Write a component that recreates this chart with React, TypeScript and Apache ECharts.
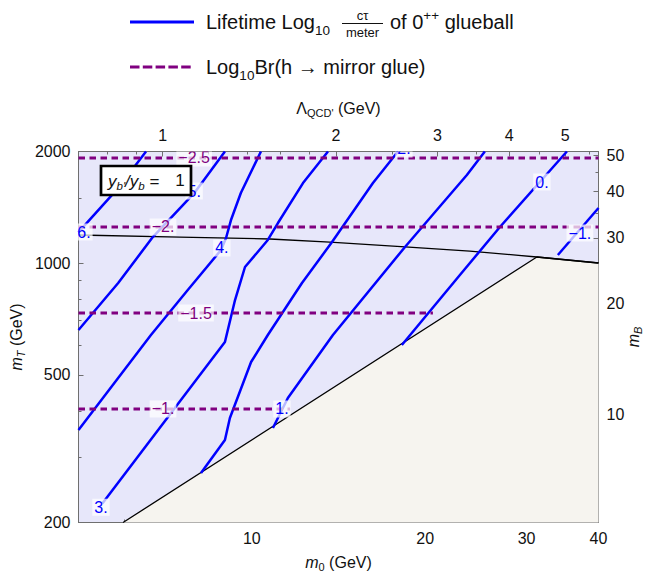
import React, { useEffect, useRef } from 'react';
import * as echarts from 'echarts';

const FONT = '"Liberation Sans", Arial, Helvetica, sans-serif';
const BLUE = '#0000ff';
const PURPLE = '#800080';
const AXIS = '#6f6f6f';
const TEXT = '#111111';

// axis ranges (GeV)
const m0Range = [5, 40];
const mTRange = [200, 2000];
const m0PerLambda = 7.0;
const mTPerMB = 39;

// tick marks
const m0Labels = [10, 20, 30, 40];
const m0MinorTicks = [6, 8, 12, 14, 16, 18, 22, 24, 26, 28, 32, 34, 36, 38];
const mTLabels = [200, 500, 1000, 2000];
const mTMinorTicks = [300, 400, 600, 700, 800, 900, 1500];
const lambdaLabels = [1, 2, 3, 4, 5];
const lambdaMinorTicks = [0.8, 0.9, 1.2, 1.4, 1.6, 1.8, 2.5, 3.5, 4.5, 5.5];
const mBLabels = [10, 20, 30, 40, 50];
const mBMinorTicks = [6, 7, 8, 9, 12, 14, 16, 18, 25, 35, 45];

// lifetime contours, points [m0, mT] in GeV
const lifetime6 = [[5.0, 1213], [5.86, 1594], [6.55, 2000]];
const lifetime5 = [[5.0, 660.6], [5.86, 884.5], [6.73, 1176], [7.97, 1555], [8.98, 2000]];
const lifetime4 = [[5.0, 355.1], [6.68, 640.4], [7.74, 846.9], [8.84, 1085], [9.02, 1169], [9.2, 1307], [9.57, 1546], [10.37, 2000]];
const lifetime3 = [[5.5, 225], [8.98, 613.1], [9.35, 795.6], [9.73, 976.6], [10.66, 1155], [11.1, 1283], [12.27, 1644], [13.56, 2000]];
const lifetime2 = [[8.16, 271.9], [8.98, 333.8], [9.16, 382.5], [9.97, 541.5], [10.66, 640.4], [12.22, 884.5], [13.78, 1140], [16.23, 1644], [17.94, 2000]];
const lifetime1 = [[10.88, 359.5], [11.55, 433], [13.83, 640.4], [18.45, 1106], [23.63, 1729], [25.39, 2000]];
const lifetime0 = [[18.22, 601.8], [22.98, 929.2], [26.97, 1252], [35.25, 2000]];
const lifetimeMinus1 = [[34.0, 1052], [40, 1408]];

// contour label positions
const lifeLabelText = ['6.', '5.', '4.', '3.', '2.', '1.', '0.', '\u22121.'];
const lifeLabelM0 = [5.11, 7.94, 8.87, 5.47, 18.37, 11.28, 31.9, 37.13];
const lifeLabelMT = [1213, 1565, 1099, 220, 2032, 404.6, 1655, 1206];

// Br contours (horizontal): level, mT, m0 extent
const brLabelText = ['\u22122.5', '\u22122.', '\u22121.5', '\u22121.'];
const brMT = [1921, 1252, 734, 404.6];
const brM0End = [40, 40, 20.63, 11.65];
const brLabelM0 = [7.94, 7.01, 8.0, 7.01];

// region boundaries
const diagonalBoundary = [[5.975, 200], [31.26, 1039]];
const upperBoundary = [[5, 1191], [7.5, 1176], [10.75, 1162], [13.66, 1140], [18.45, 1106], [23.91, 1078], [31.26, 1039], [40, 1001]];

const lg = (v: number) => Math.log10(v);
const lgPts = (pts: number[][]) => pts.map(([a, b]) => [lg(a), lg(b)]);
const fmt = (v: number) => String(Math.round(Math.pow(10, v)));

const richName = {
  i: { fontStyle: 'italic', fontSize: 16, lineHeight: 20, fontFamily: FONT, color: TEXT },
  si: { fontStyle: 'italic', fontSize: 11, lineHeight: 11, verticalAlign: 'bottom', fontFamily: FONT, color: TEXT },
  s: { fontSize: 11, lineHeight: 11, verticalAlign: 'bottom', fontFamily: FONT, color: TEXT },
  n: { fontSize: 16, lineHeight: 20, fontFamily: FONT, color: TEXT },
};

let measureCtx: CanvasRenderingContext2D | null = null;
function textWidth(text: string, font: string) {
  if (!measureCtx) measureCtx = document.createElement('canvas').getContext('2d');
  if (!measureCtx) return text.length * 10;
  measureCtx.font = font;
  return measureCtx.measureText(text).width;
}

// sequence of text pieces laid out left to right; dy = vertical offset, size = font size
function textRun(x: number, y: number, pieces: { t: string; size: number; dy: number; italic?: boolean }[]) {
  const out: any[] = [];
  let cx = x;
  pieces.forEach((p) => {
    const font = (p.italic ? 'italic ' : '') + p.size + 'px ' + FONT;
    out.push({ type: 'text', z: 100, x: cx, y: y + p.dy, style: { text: p.t, font, fill: TEXT, align: 'left', verticalAlign: 'middle' } });
    cx += textWidth(p.t, font);
  });
  return out;
}

function majorAxis(position: string, min: number, max: number, labels: number[], extra: any) {
  const vals = labels.map(lg);
  return {
    type: 'value',
    position,
    min,
    max,
    axisLine: { show: true, onZero: false, lineStyle: { color: AXIS, width: 1 } },
    axisTick: { show: true, inside: true, length: 5, customValues: vals, lineStyle: { color: AXIS, width: 1 } },
    axisLabel: { show: true, customValues: vals, formatter: fmt, color: TEXT, fontSize: 16, fontFamily: FONT },
    splitLine: { show: false },
    nameMoveOverlap: false,
    ...extra,
  };
}

function minorAxis(position: string, min: number, max: number, ticks: number[]) {
  return {
    type: 'value',
    position,
    min,
    max,
    axisLine: { show: false, onZero: false },
    axisTick: { show: true, inside: true, length: 3, customValues: ticks.map(lg), lineStyle: { color: AXIS, width: 1 } },
    axisLabel: { show: false },
    splitLine: { show: false },
  };
}

export default function App() {
  const ref = useRef<HTMLDivElement>(null);
  useEffect(() => {
    if (!ref.current) return;
    const chart = echarts.init(ref.current, null, { renderer: 'svg' });
    const x0 = lg(m0Range[0]);
    const x1 = lg(m0Range[1]);
    const y0 = lg(mTRange[0]);
    const y1 = lg(mTRange[1]);
    const l0 = lg(m0Range[0] / m0PerLambda);
    const l1 = lg(m0Range[1] / m0PerLambda);
    const b0 = lg(mTRange[0] / mTPerMB);
    const b1 = lg(mTRange[1] / mTPerMB);

    const lifetimes = [lifetime6, lifetime5, lifetime4, lifetime3, lifetime2, lifetime1, lifetime0, lifetimeMinus1];

    const labelItems = [
      ...lifeLabelText.map((t, i) => ({ text: t, color: BLUE, m0: lifeLabelM0[i], mT: lifeLabelMT[i] })),
      ...brLabelText.map((t, i) => ({ text: t, color: PURPLE, m0: brLabelM0[i], mT: brMT[i] })),
    ];

    const excluded = [...diagonalBoundary, ...upperBoundary.filter((p) => p[0] > diagonalBoundary[1][0])];

    const series: any[] = [];
    series.push({
      type: 'line',
      name: 'excluded',
      data: lgPts(excluded),
      showSymbol: false,
      lineStyle: { color: '#000', width: 1.3 },
      areaStyle: { color: '#f6f4ef', opacity: 1, origin: 'start' },
      z: 2,
      silent: true,
    });
    series.push({
      type: 'line',
      name: 'upper',
      data: lgPts(upperBoundary),
      showSymbol: false,
      lineStyle: { color: '#000', width: 1.3 },
      z: 3,
      silent: true,
    });
    lifetimes.forEach((pts, i) => {
      series.push({
        type: 'line',
        name: 'life' + i,
        data: lgPts(pts),
        showSymbol: false,
        lineStyle: { color: BLUE, width: 2.5 },
        z: 4,
        silent: true,
      });
    });
    brMT.forEach((mt, i) => {
      series.push({
        type: 'line',
        name: 'br' + i,
        data: [[x0, lg(mt)], [lg(brM0End[i]), lg(mt)]],
        showSymbol: false,
        lineStyle: { color: PURPLE, width: 3, type: [6.5, 4.5] },
        z: 5,
        silent: true,
      });
    });
    series.push({
      type: 'custom',
      name: 'labels',
      coordinateSystem: 'cartesian2d',
      clip: true,
      z: 6,
      silent: true,
      data: labelItems.map((l) => [lg(l.m0), lg(l.mT)]),
      renderItem: (params: any, api: any) => {
        const item = labelItems[params.dataIndex];
        const p = api.coord([api.value(0), api.value(1)]);
        return {
          type: 'text',
          x: p[0],
          y: p[1],
          style: {
            text: item.text,
            fill: item.color,
            font: '16px ' + FONT,
            align: 'center',
            verticalAlign: 'middle',
            backgroundColor: 'rgba(255,255,255,0.72)',
            padding: [1, 2, 0, 2],
          },
        };
      },
    });

    const legendRow1a = textRun(206, 22, [
      { t: 'Lifetime Log', size: 20, dy: 0 },
      { t: '10', size: 13.5, dy: 8 },
    ]);
    const legendRow1b = textRun(390, 22, [
      { t: 'of 0', size: 20, dy: 0 },
      { t: '++', size: 13.5, dy: -6.5 },
      { t: ' glueball', size: 20, dy: 0 },
    ]);
    const legendRow2 = textRun(206, 67, [
      { t: 'Log', size: 20, dy: 0 },
      { t: '10', size: 13.5, dy: 8 },
      { t: 'Br(h \u2192 mirror glue)', size: 20, dy: 0 },
    ]);
    const ybox = textRun(108, 181, [
      { t: 'y', size: 17, dy: 0, italic: true },
      { t: "b'", size: 11.5, dy: 5, italic: true },
      { t: '/', size: 17, dy: 0, italic: true },
      { t: 'y', size: 17, dy: 0, italic: true },
      { t: 'b', size: 11.5, dy: 5, italic: true },
      { t: ' =', size: 17, dy: 0 },
    ]).map((e) => ({ ...e, z: 101 }));

    const option: any = {
      animation: false,
      backgroundColor: '#ffffff',
      grid: {
        left: 78.5,
        right: 50.5,
        top: 151.5,
        bottom: 49.5,
        show: true,
        backgroundColor: '#e7e7fa',
        borderWidth: 0,
        containLabel: false,
        outerBoundsMode: 'none',
      },
      xAxis: [
        majorAxis('bottom', x0, x1, m0Labels, {
          name: '{i|m}{s|0}{n| (GeV)}',
          nameLocation: 'middle',
          nameGap: 30,
          nameTextStyle: { color: TEXT, fontSize: 16, fontFamily: FONT, rich: richName },
        }),
        minorAxis('bottom', x0, x1, m0MinorTicks),
        majorAxis('top', l0, l1, lambdaLabels, {
          name: "{n|\u039b}{s|QCD'}{n| (GeV)}",
          nameLocation: 'middle',
          nameGap: 33,
          nameTextStyle: { color: TEXT, fontSize: 16, fontFamily: FONT, rich: richName },
        }),
        minorAxis('top', l0, l1, lambdaMinorTicks),
      ],
      yAxis: [
        majorAxis('left', y0, y1, mTLabels, {
          name: '{i|m}{si|T}{n| (GeV)}',
          nameLocation: 'middle',
          nameGap: 52,
          nameTextStyle: { color: TEXT, fontSize: 16, fontFamily: FONT, rich: richName },
        }),
        minorAxis('left', y0, y1, mTMinorTicks),
        majorAxis('right', b0, b1, mBLabels, {
          name: '{i|m}{si|B}',
          nameLocation: 'middle',
          nameGap: 25,
          nameTextStyle: { color: TEXT, fontSize: 16, fontFamily: FONT, rich: richName },
        }),
        minorAxis('right', b0, b1, mBMinorTicks),
      ],
      series,
      graphic: [
        // legend row 1
        { type: 'line', z: 100, shape: { x1: 130, y1: 22, x2: 194, y2: 22 }, style: { stroke: BLUE, lineWidth: 3 } },
        ...legendRow1a,
        { type: 'text', z: 100, x: 362.5, y: 15.5, style: { text: 'c\u03c4', font: '13px ' + FONT, fill: TEXT, align: 'center', verticalAlign: 'middle' } },
        { type: 'line', z: 100, shape: { x1: 342, y1: 23.5, x2: 383, y2: 23.5 }, style: { stroke: TEXT, lineWidth: 1 } },
        { type: 'text', z: 100, x: 362.5, y: 32, style: { text: 'meter', font: '13px ' + FONT, fill: TEXT, align: 'center', verticalAlign: 'middle' } },
        ...legendRow1b,
        // legend row 2
        { type: 'line', z: 100, shape: { x1: 130, y1: 67, x2: 194, y2: 67 }, style: { stroke: PURPLE, lineWidth: 3, lineDash: [9.5, 3.3] } },
        ...legendRow2,
        // y_b'/y_b box
        { type: 'rect', z: 100, shape: { x: 101, y: 166, width: 90, height: 29 }, style: { fill: '#ffffff', stroke: '#000000', lineWidth: 2.7 } },
        ...ybox,
        { type: 'text', z: 101, x: 180, y: 180, style: { text: '1', font: '17px ' + FONT, fill: TEXT, align: 'center', verticalAlign: 'middle' } },
      ],
    };
    chart.setOption(option);
    return () => chart.dispose();
  }, []);
  return <div ref={ref} style={{ position: 'absolute', left: 0, top: 0, width: 649, height: 572 }} />;
}
